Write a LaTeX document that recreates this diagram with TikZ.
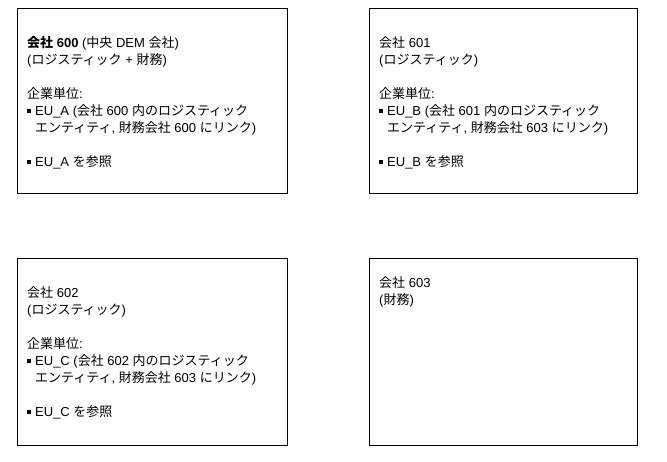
\documentclass[tikz,border=0pt]{standalone}
\usepackage{fontspec}
\setmainfont{Liberation Sans}
\newfontfamily\cjk{Noto Sans CJK JP}
\newcommand\jp[1]{{\cjk #1}}
\newcommand\bul{\makebox[8pt][l]{\raisebox{2.5pt}{\rule{3.5pt}{3.5pt}}}}
\tikzset{
  box/.style={draw=black, line width=0.9pt, fill=white},
  txt/.style={anchor=north west, inner sep=0pt, align=left, font=\fontsize{13}{17}\selectfont}
}
\begin{document}
\begin{tikzpicture}[x=1pt,y=-1pt]
\useasboundingbox (0,0) rectangle (667,461);
\node[box, minimum width=270pt, minimum height=185pt, anchor=north west] (b600) at (17,8) {};
\node[box, minimum width=268pt, minimum height=185pt, anchor=north west] (b601) at (369,8) {};
\node[box, minimum width=270pt, minimum height=187pt, anchor=north west] (b602) at (17,258) {};
\node[box, minimum width=268pt, minimum height=187pt, anchor=north west] (b603) at (369,258) {};
\node[txt] (t600) at (27,36) {\textbf{\jp{会社} 600} (\jp{中央} DEM \jp{会社})\\
(\jp{ロジスティック} + \jp{財務})\\[17pt]
\jp{企業単位}:\\
\bul EU\_A (\jp{会社} 600 \jp{内のロジスティック}\\
\hspace*{8pt}\jp{エンティティ}, \jp{財務会社} 600 \jp{にリンク})\\[17pt]
\bul EU\_A \jp{を参照}};
\node[txt] (t601) at (379,36) {\jp{会社} 601\\
(\jp{ロジスティック})\\[17pt]
\jp{企業単位}:\\
\bul EU\_B (\jp{会社} 601 \jp{内のロジスティック}\\
\hspace*{8pt}\jp{エンティティ}, \jp{財務会社} 603 \jp{にリンク})\\[17pt]
\bul EU\_B \jp{を参照}};
\node[txt] (t602) at (27,286) {\jp{会社} 602\\
(\jp{ロジスティック})\\[17pt]
\jp{企業単位}:\\
\bul EU\_C (\jp{会社} 602 \jp{内のロジスティック}\\
\hspace*{8pt}\jp{エンティティ}, \jp{財務会社} 603 \jp{にリンク})\\[17pt]
\bul EU\_C \jp{を参照}};
\node[txt] (t603) at (379,276) {\jp{会社} 603\\
(\jp{財務})};
\end{tikzpicture}
\end{document}
